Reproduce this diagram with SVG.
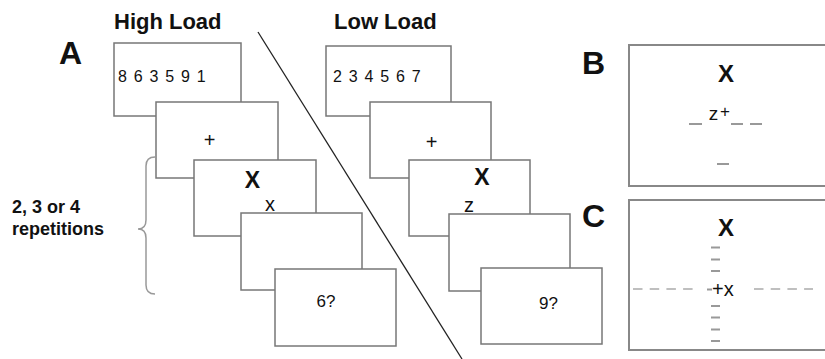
<svg xmlns="http://www.w3.org/2000/svg" width="825" height="359" viewBox="0 0 825 359">
<style>
text{font-family:"Liberation Sans",Arial,sans-serif;fill:#111}
.hd{font-size:22px;font-weight:bold}
.lab{font-size:32px;font-weight:bold}
.rep{font-size:18px;font-weight:bold}
.dig{font-size:16px;letter-spacing:1.2px}
.plus{font-size:20px}
.bigx{font-size:23px;font-weight:bold}
.sm{font-size:20px}
.q{font-size:17px}
.box{fill:#fff;stroke:#777;stroke-width:1.5}
.pbox{fill:#fff;stroke:#888;stroke-width:2}
.ds{stroke:#999;stroke-width:2}
</style>
<rect width="825" height="359" fill="#fff"/>
<g id="labels">
<text class="lab" x="59" y="64">A</text>
<text class="hd" x="114" y="29">High Load</text>
<text class="hd" x="334" y="29">Low Load</text>
<text class="rep" x="12" y="213">2, 3 or 4</text>
<text class="rep" x="12" y="235">repetitions</text>
<text class="lab" x="582" y="74">B</text>
<text class="lab" x="582" y="227">C</text>
</g>
<g id="connectors">
<line x1="258" y1="32" x2="462" y2="359" stroke="#222" stroke-width="1.3"/>
<path d="M155,157 Q146,157 146,166 L146,220 Q146,229 138,229 Q146,229 146,238 L146,285 Q146,294 155,294" fill="none" stroke="#999" stroke-width="1.5"/>
</g>
<g id="high1"><rect class="box" x="114" y="43" width="127" height="73"/><text class="dig" x="118" y="82">8 6 3 5 9 1</text></g>
<g id="high2"><rect class="box" x="156" y="102" width="122" height="76"/><text class="plus" x="209.5" y="147" text-anchor="middle">+</text></g>
<g id="high3"><rect class="box" x="194" y="160" width="122" height="76"/><text class="bigx" x="252.5" y="188" text-anchor="middle">X</text><text class="sm" x="270" y="211" text-anchor="middle">x</text></g>
<g id="high4"><rect class="box" x="241" y="213" width="121" height="77"/></g>
<g id="high5"><rect class="box" x="275" y="269" width="121" height="77"/><text class="q" x="326" y="307" text-anchor="middle">6?</text></g>
<g id="low1"><rect class="box" x="326" y="46" width="125" height="70"/><text class="dig" x="333" y="82">2 3 4 5 6 7</text></g>
<g id="low2"><rect class="box" x="370" y="102" width="121" height="76"/><text class="plus" x="431.5" y="149" text-anchor="middle">+</text></g>
<g id="low3"><rect class="box" x="409" y="160" width="121" height="76"/><text class="bigx" x="482" y="184.5" text-anchor="middle">X</text><text class="sm" x="469" y="211.5" text-anchor="middle">z</text></g>
<g id="low4"><rect class="box" x="449" y="214" width="121" height="77"/></g>
<g id="low5"><rect class="box" x="481" y="268" width="121" height="76"/><text class="q" x="548.5" y="309" text-anchor="middle">9?</text></g>
<g id="panelB">
<rect class="pbox" x="629" y="45" width="220" height="141"/>
<text class="bigx" x="726" y="82" text-anchor="middle" style="font-size:24px">X</text>
<text x="713.5" y="120" style="font-size:19px" text-anchor="middle">z</text>
<text x="725" y="117" style="font-size:17px" text-anchor="middle">+</text>
<line class="ds" x1="689" y1="124" x2="702" y2="124"/>
<line class="ds" x1="731" y1="124" x2="743" y2="124"/>
<line class="ds" x1="750" y1="124" x2="762" y2="124"/>
<line class="ds" x1="717" y1="164" x2="729" y2="164"/>
</g>
<g id="panelC">
<rect class="pbox" x="629" y="200" width="220" height="150"/>
<text class="bigx" x="726" y="236" text-anchor="middle" style="font-size:24px">X</text>
<line x1="633" y1="289" x2="693" y2="289" stroke="#aaa" stroke-width="1.5" stroke-dasharray="9.5,7.2"/>
<line x1="754" y1="289" x2="813" y2="289" stroke="#aaa" stroke-width="1.5" stroke-dasharray="9.5,7.2"/>
<line class="ds" x1="711" y1="247.5" x2="720" y2="247.5"/>
<line class="ds" x1="711" y1="259.5" x2="720" y2="259.5"/>
<line class="ds" x1="711" y1="271" x2="720" y2="271"/>
<line class="ds" x1="707" y1="289.5" x2="712" y2="289.5"/>
<line class="ds" x1="711" y1="306" x2="720" y2="306"/>
<line class="ds" x1="711" y1="317.5" x2="720" y2="317.5"/>
<line class="ds" x1="711" y1="329.5" x2="720" y2="329.5"/>
<line class="ds" x1="711" y1="341" x2="720" y2="341"/>
<text x="712" y="296" style="font-size:20px">+x</text>
</g>
</svg>
